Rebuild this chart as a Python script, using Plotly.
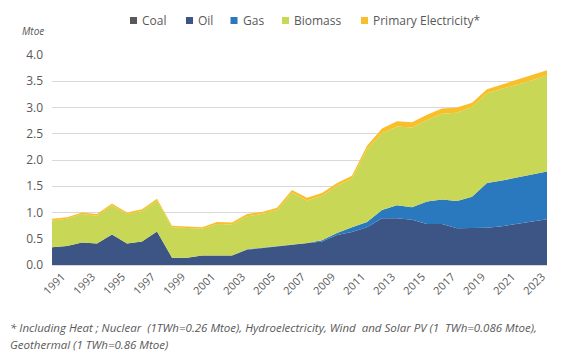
import plotly.graph_objects as go

years = list(range(1991, 2025))
coal = [0.0] * 34
oil = [0.34, 0.36, 0.43, 0.41, 0.58, 0.41, 0.45, 0.64, 0.14, 0.14,
       0.18, 0.18, 0.18, 0.29, 0.32, 0.35, 0.38, 0.41, 0.45, 0.57,
       0.63, 0.72, 0.89, 0.89, 0.86, 0.78, 0.78, 0.70, 0.70, 0.71,
       0.74, 0.78, 0.82, 0.87]
gas = [0, 0, 0, 0, 0, 0, 0, 0, 0, 0,
       0, 0, 0, 0.01, 0.01, 0.01, 0.01, 0.01, 0.02, 0.04,
       0.09, 0.10, 0.16, 0.25, 0.24, 0.43, 0.47, 0.52, 0.60, 0.85,
       0.87, 0.89, 0.90, 0.91]
biomass = [0.51, 0.52, 0.54, 0.53, 0.56, 0.56, 0.58, 0.59, 0.58, 0.56,
           0.51, 0.60, 0.59, 0.63, 0.64, 0.69, 0.99, 0.81, 0.85, 0.90,
           0.93, 1.39, 1.46, 1.50, 1.52, 1.55, 1.63, 1.68, 1.71, 1.71,
           1.74, 1.77, 1.80, 1.83]
prim_elec = [0.03, 0.03, 0.03, 0.03, 0.03, 0.03, 0.03, 0.03, 0.03, 0.03,
             0.03, 0.04, 0.04, 0.04, 0.04, 0.04, 0.05, 0.05, 0.05, 0.05,
             0.05, 0.06, 0.09, 0.10, 0.10, 0.10, 0.10, 0.10, 0.08, 0.08,
             0.09, 0.09, 0.10, 0.10]
tick_years = list(range(1991, 2024, 2))
tick_labels = [str(y) for y in tick_years]

series_names = ["Coal", "Oil", "Gas", "Biomass", "Primary Electricity*"]
series_values = [coal, oil, gas, biomass, prim_elec]
series_colors = ["#595959", "#3D5585", "#2A78BE", "#C9D756", "#F9BF2B"]

FONT = "Open Sans"
GREY = "#595959"

# page offset of the figure (default body margin of the html page)
OFF = 8
W, H = 568 - OFF, 363 - OFF
# plot area in page pixels
L, R, T, B = 52, 547, 55, 265
PW, PH = R - L, B - T

fig = go.Figure()
for name, vals, col in zip(series_names, series_values, series_colors):
    fig.add_trace(go.Scatter(
        x=years, y=vals, name=name, mode="lines", stackgroup="one",
        line=dict(width=0, color=col), fillcolor=col, showlegend=False,
        hoverinfo="x+y+name"))

def px_x(px):
    return (px - L) / PW

def px_y(py):
    return (B - py) / PH

# legend (squares + labels)
legend_sq_x = [130, 186, 230.5, 282, 361]
shapes = []
annotations = []
for name, col, sx in zip(series_names, series_colors, legend_sq_x):
    shapes.append(dict(type="rect", xref="paper", yref="paper",
                       x0=px_x(sx), x1=px_x(sx + 7), y0=px_y(24), y1=px_y(17),
                       fillcolor=col, line=dict(width=0)))
    annotations.append(dict(text=name, xref="paper", yref="paper",
                            x=px_x(sx + 10), y=px_y(20.5), xanchor="left",
                            yanchor="middle", showarrow=False,
                            font=dict(size=12, color=GREY)))

annotations += [
    dict(text="<i>Mtoe</i>", xref="paper", yref="paper", x=px_x(46), y=px_y(31),
         xanchor="right", yanchor="middle", showarrow=False,
         font=dict(size=10, color=GREY)),
    dict(text="<i>* Including Heat ; Nuclear  (1TWh=0.26 Mtoe), Hydroelectricity, Wind  and Solar PV (1  TWh=0.086 Mtoe),</i>",
         xref="paper", yref="paper", x=px_x(8), y=px_y(327),
         xanchor="left", yanchor="middle", showarrow=False,
         font=dict(size=11.5, color=GREY)),
    dict(text="<i>Geothermal (1 TWh=0.86 Mtoe)</i>",
         xref="paper", yref="paper", x=px_x(8), y=px_y(344),
         xanchor="left", yanchor="middle", showarrow=False,
         font=dict(size=11.5, color=GREY)),
]

fig.update_layout(
    width=W, height=H,
    margin=dict(l=L - OFF, r=W - (R - OFF), t=T - OFF, b=H - (B - OFF),
                autoexpand=False),
    paper_bgcolor="white", plot_bgcolor="white",
    font=dict(family=FONT, color=GREY, size=11),
    showlegend=False,
    xaxis=dict(range=[1991, 2024], tickmode="array", tickvals=tick_years,
               ticktext=tick_labels, tickangle=-45, showgrid=False,
               showline=True, linecolor="#D9D9D9", linewidth=1, ticks="",
               tickfont=dict(size=11, color=GREY), ticklabelshift=10,
               zeroline=False, automargin=False),
    yaxis=dict(range=[0, 4.0], dtick=0.5, tickformat=".1f", showgrid=True,
               gridcolor="#D9D9D9", gridwidth=1, zeroline=False,
               tickfont=dict(size=12, color=GREY), ticks="",
               ticklabelstandoff=8, automargin=False),
    shapes=shapes,
    annotations=annotations,
)

fig.write_html("out.html")
